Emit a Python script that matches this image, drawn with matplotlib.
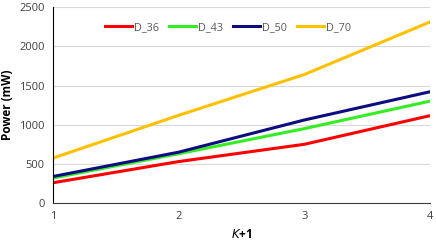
import matplotlib
matplotlib.use("Agg")
import matplotlib.pyplot as plt

x = [1, 2, 3, 4]
series_names = ["D_36", "D_43", "D_50", "D_70"]
d36 = [260, 530, 750, 1115]
d43 = [320, 630, 950, 1300]
d50 = [340, 650, 1060, 1420]
d70 = [575, 1120, 1640, 2310]
colors = ["#FF0000", "#33EE22", "#0D0D80", "#FFC000"]

plt.rcParams['font.family'] = ['Open Sans', 'DejaVu Sans']
fig = plt.figure(figsize=(4.36, 2.45), dpi=100)
ax = fig.add_axes([0.122, 0.171, 0.864, 0.80])
for vals, name, c in zip([d36, d43, d50, d70], series_names, colors):
    ax.plot(x, vals, color=c, lw=2.2, label=name)
ax.set_xlim(1, 4)
ax.set_ylim(0, 2500)
ax.set_xticks(x)
ax.set_yticks([0, 500, 1000, 1500, 2000, 2500])
ax.grid(axis='y', color='#D9D9D9', lw=0.8)
ax.set_axisbelow(True)
for s in ['top', 'right']:
    ax.spines[s].set_visible(False)
ax.spines['left'].set_color('#000000')
ax.spines['bottom'].set_color('#404040')
ax.tick_params(axis='both', length=0, labelsize=8, colors='#404040', pad=6)
ax.set_ylabel("Power (mW)", fontsize=8.5, fontweight='bold', labelpad=4)
ax.set_xlabel(r"$\bf{\it{K}}$+1", fontsize=8.5, fontweight='bold', labelpad=4)
leg = ax.legend(loc='upper center', bbox_to_anchor=(0.464, 0.975), ncol=4, frameon=False,
                fontsize=7.8, handlelength=2.5, columnspacing=0.9, handletextpad=0.2)
for t in leg.get_texts():
    t.set_color('#595959')
fig.savefig("out.png", dpi=100)
